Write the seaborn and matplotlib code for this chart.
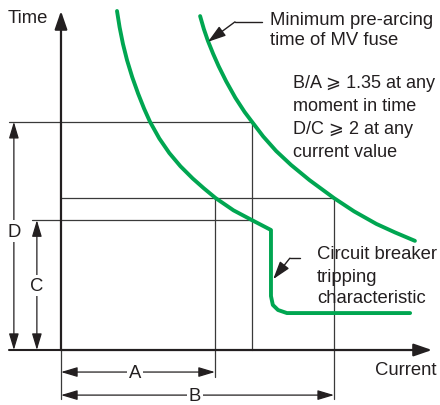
import matplotlib
matplotlib.use("Agg")
import matplotlib.pyplot as plt
import seaborn as sns

# schematic units: current 0..10 on the x axis, time 0..10 on the y axis
cb_current = [1.51, 1.58, 1.67, 1.78, 1.92, 2.08, 2.24, 2.40, 2.65, 2.92, 3.22,
              3.55, 3.85, 4.17, 4.65, 5.15, 5.66, 5.66, 5.71, 5.85, 6.09, 9.41]
cb_time = [10.0, 9.52, 9.03, 8.55, 8.05, 7.56, 7.12, 6.73, 6.24, 5.81, 5.42,
           5.06, 4.77, 4.48, 4.12, 3.83, 3.54, 1.59, 1.33, 1.18, 1.09, 1.09]

fuse_current = [3.75, 3.85, 3.96, 4.10, 4.25, 4.45, 4.70, 4.95, 5.15, 5.45,
                5.80, 6.20, 6.70, 7.36, 7.90, 8.50, 9.00, 9.54]
fuse_time = [9.85, 9.47, 9.12, 8.74, 8.37, 7.93, 7.44, 7.02, 6.73, 6.30,
             5.87, 5.46, 5.01, 4.48, 4.09, 3.72, 3.47, 3.22]

# reference values marked on the chart
a_current = 4.15
b_current = 7.36
cd_current = 5.15
ab_time = 4.48
c_time = 3.83
d_time = 6.73

fuse_label = ["Minimum pre-arcing", "time of MV fuse"]
cb_label = ["Circuit breaker", "tripping", "characteristic"]
note = ["B/A \u2A7E 1.35 at any", "moment in time", "D/C \u2A7E 2 at any", "current value"]

sns.set_style("white")
plt.rcParams['font.family'] = ['Liberation Sans', 'DejaVu Sans']

green = "#00a651"
ink = "#231f20"
thin = "#3a3a3a"
fs = 13.3

fig = plt.figure(figsize=(4.4, 4.06), dpi=100)
ax = fig.add_axes([0, 0, 1, 1])
ax.set_xlim(-1.644, 10.216)
ax.set_ylim(-1.622, 10.354)
ax.axis("off")

# guide lines
ax.plot([-1.40, cd_current], [d_time, d_time], color=thin, lw=0.9)
ax.plot([-0.78, cd_current], [c_time, c_time], color=thin, lw=0.9)
ax.plot([0, b_current], [ab_time, ab_time], color=thin, lw=0.9)
ax.plot([a_current, a_current], [ab_time, -0.80], color=thin, lw=0.9)
ax.plot([cd_current, cd_current], [d_time, 0], color=thin, lw=0.9)
ax.plot([b_current, b_current], [ab_time, -1.45], color=thin, lw=0.9)
ax.plot([0, 0], [0, -1.45], color=thin, lw=0.9)
ax.plot([-1.40, 0], [0, 0], color=ink, lw=1.5)

# axes with arrow heads
axis_arrow = dict(arrowstyle="-|>,head_length=1.1,head_width=0.38", lw=1.6,
                  color=ink, shrinkA=0, shrinkB=0, mutation_scale=10)
ax.annotate("", xy=(0, 10), xytext=(0, 0), arrowprops=axis_arrow)
ax.annotate("", xy=(10, 0), xytext=(0, 0), arrowprops=axis_arrow)
ax.text(-1.43, 9.68, "Time", ha="left", va="baseline", fontsize=fs, color=ink)
ax.text(8.46, -0.71, "Current", ha="left", va="baseline", fontsize=fs, color=ink)

# curves
sns.lineplot(x=cb_current, y=cb_time, sort=False, estimator=None, color=green,
             lw=2.8, solid_joinstyle="round", ax=ax)
sns.lineplot(x=fuse_current, y=fuse_time, sort=False, estimator=None, color=green,
             lw=2.8, solid_joinstyle="round", ax=ax)

# dimension arrows
dim_arrow = dict(arrowstyle="<|-|>,head_length=1.0,head_width=0.3", lw=0.9,
                 color=ink, shrinkA=0, shrinkB=0, mutation_scale=10)
ax.annotate("", xy=(-1.27, d_time), xytext=(-1.27, 0), arrowprops=dim_arrow)
ax.annotate("", xy=(-0.65, c_time), xytext=(-0.65, 0), arrowprops=dim_arrow)
ax.annotate("", xy=(a_current, -0.65), xytext=(0, -0.65), arrowprops=dim_arrow)
ax.annotate("", xy=(b_current, -1.33), xytext=(0, -1.33), arrowprops=dim_arrow)
box = dict(fc="white", ec="none", pad=1.5)
ax.text(-1.27, 3.51, "D", ha="center", va="center", fontsize=fs, color=ink, bbox=box)
ax.text(-0.65, 1.89, "C", ha="center", va="center", fontsize=fs, color=ink, bbox=box)
ax.text(1.99, -0.66, "A", ha="center", va="center", fontsize=fs, color=ink, bbox=box)
ax.text(3.61, -1.33, "B", ha="center", va="center", fontsize=fs, color=ink, bbox=box)

# leaders and labels
lead_arrow = dict(arrowstyle="-|>,head_length=1.1,head_width=0.35", lw=1.0,
                  color=ink, shrinkA=0, shrinkB=0, mutation_scale=10)
ax.plot([4.69, 5.42], [9.68, 9.68], color=ink, lw=1.0)
ax.annotate("", xy=(3.96, 9.09), xytext=(4.69, 9.68), arrowprops=lead_arrow)
ax.plot([6.17, 6.44], [2.71, 2.71], color=ink, lw=1.0)
ax.annotate("", xy=(5.72, 2.09), xytext=(6.17, 2.71), arrowprops=lead_arrow)

for txt, y in zip(fuse_label, [9.62, 9.03]):
    ax.text(5.63, y, txt, ha="left", va="baseline", fontsize=fs, color=ink)
for txt, y in zip(cb_label, [2.71, 2.04, 1.42]):
    ax.text(6.90, y, txt, ha="left", va="baseline", fontsize=fs, color=ink)
for txt, y in zip(note, [7.76, 7.08, 6.40, 5.72]):
    ax.text(6.25, y, txt, ha="left", va="baseline", fontsize=13.0, color=ink)

fig.savefig("out.png", dpi=100)
